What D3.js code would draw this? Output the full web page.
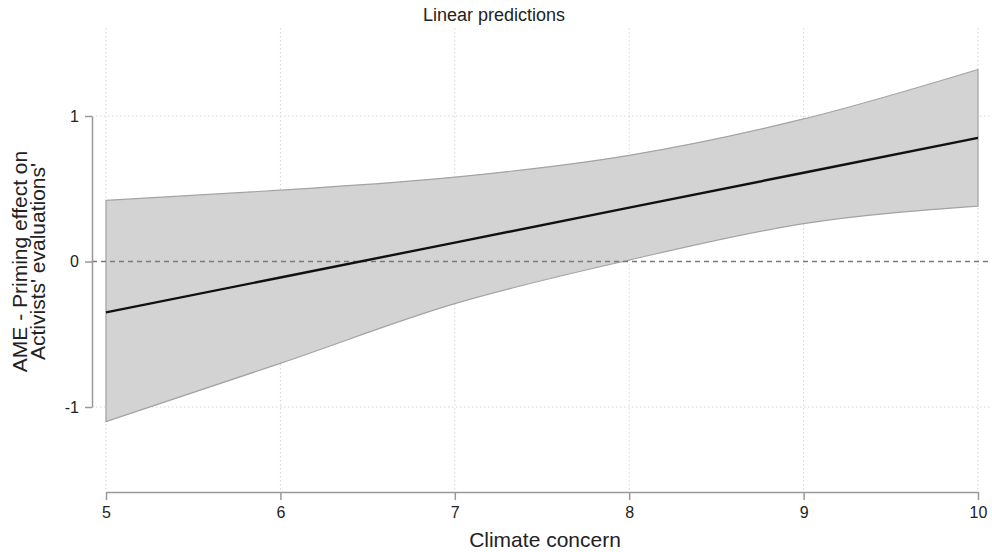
<!DOCTYPE html>
<html>
<head>
<meta charset="utf-8">
<script src="https://cdn.jsdelivr.net/npm/d3@7"></script>
<style>
  body { margin: 0; background: #fff; }
  svg { font-family: "Liberation Sans", Arial, Helvetica, sans-serif; }
</style>
</head>
<body>
<div id="graph"></div>
<script>
// values
var concern = [5, 6, 7, 8, 9, 10];
var ame = [-0.35, -0.11, 0.13, 0.37, 0.61, 0.85];
var ciUpper = [0.42, 0.49, 0.58, 0.73, 0.98, 1.32];
var ciLower = [-1.10, -0.70, -0.29, 0.01, 0.26, 0.38];
var xTicks = [5, 6, 7, 8, 9, 10];
var yTicks = [-1, 0, 1];

var svgWidth = 992, svgHeight = 552;

var svg = d3.select('#graph')
  .append('svg')
    .attr("width", svgWidth)
    .attr("height", svgHeight);

var x = d3.scaleLinear()
    .domain([5, 10])
    .range([106, 978]);

var y = d3.scaleLinear()
    .domain([-1, 1])
    .range([407, 116]);

var plotLeft = 92, plotRight = 992, plotTop = 28, plotBottom = 492;

var data = concern.map(function(c, i) {
  return { x: c, ame: ame[i], lo: ciLower[i], hi: ciUpper[i] };
});

// grid
svg.append("g")
  .selectAll("line")
  .data(xTicks)
  .join("line")
    .attr("x1", function(d) { return x(d); })
    .attr("x2", function(d) { return x(d); })
    .attr("y1", plotTop)
    .attr("y2", plotBottom)
    .attr("stroke", "#d4d4d4")
    .attr("stroke-width", 1)
    .attr("stroke-dasharray", "1.5,2.5");

svg.append("g")
  .selectAll("line")
  .data(yTicks.filter(function(d) { return d !== 0; }))
  .join("line")
    .attr("x1", plotLeft)
    .attr("x2", plotRight)
    .attr("y1", function(d) { return y(d); })
    .attr("y2", function(d) { return y(d); })
    .attr("stroke", "#d4d4d4")
    .attr("stroke-width", 1)
    .attr("stroke-dasharray", "1.5,2.5");

// confidence band
var area = d3.area()
    .x(function(d) { return x(d.x); })
    .y0(function(d) { return y(d.lo); })
    .y1(function(d) { return y(d.hi); })
    .curve(d3.curveMonotoneX);

svg.append("path")
    .datum(data)
    .attr("fill", "#d3d3d3")
    .attr("stroke", "#a3a3a3")
    .attr("stroke-width", 1.2)
    .attr("d", area);

// zero reference
svg.append("line")
    .attr("x1", plotLeft)
    .attr("x2", plotRight)
    .attr("y1", y(0))
    .attr("y2", y(0))
    .attr("stroke", "#7a7a7a")
    .attr("stroke-width", 1.5)
    .attr("stroke-dasharray", "5,4");

// estimate line
var line = d3.line()
    .x(function(d) { return x(d.x); })
    .y(function(d) { return y(d.ame); });

svg.append("path")
    .datum(data)
    .attr("fill", "none")
    .attr("stroke", "#111")
    .attr("stroke-width", 2.4)
    .attr("d", line);

// axes
var fmt = function(d) { return String(d); };

var xAxis = svg.append("g")
    .attr("transform", "translate(0," + plotBottom + ")")
    .call(d3.axisBottom(x).tickValues(xTicks).tickSize(8).tickPadding(7).tickSizeOuter(0).tickFormat(fmt));
xAxis.select(".domain").attr("stroke", "#999").attr("stroke-width", 1.5);
xAxis.selectAll(".tick line").attr("stroke", "#999").attr("stroke-width", 1.5);
xAxis.selectAll(".tick text").attr("fill", "#222").style("font-size", "16px");

var yAxis = svg.append("g")
    .attr("transform", "translate(" + plotLeft + ",0)")
    .call(d3.axisLeft(y).tickValues(yTicks).tickSize(7).tickPadding(6).tickSizeOuter(0).tickFormat(fmt));
yAxis.select(".domain").attr("stroke", "#999").attr("stroke-width", 1.5);
yAxis.selectAll(".tick line").attr("stroke", "#999").attr("stroke-width", 1.5);
yAxis.selectAll(".tick text").attr("fill", "#222").style("font-size", "16px");

// titles
svg.append("text")
    .attr("x", 494)
    .attr("y", 21)
    .attr("text-anchor", "middle")
    .attr("fill", "#222")
    .style("font-size", "18px")
    .text("Linear predictions");

svg.append("text")
    .attr("x", 545)
    .attr("y", 547)
    .attr("text-anchor", "middle")
    .attr("fill", "#222")
    .style("font-size", "21px")
    .text("Climate concern");

var yTitle = svg.append("text")
    .attr("transform", "translate(0," + y(0) + ") rotate(-90)")
    .attr("text-anchor", "middle")
    .attr("fill", "#222")
    .style("font-size", "21px");
yTitle.append("tspan").attr("x", 0).attr("y", 27).text("AME - Priming effect on");
yTitle.append("tspan").attr("x", 0).attr("y", 45).text("Activists' evaluations'");
</script>
</body>
</html>
